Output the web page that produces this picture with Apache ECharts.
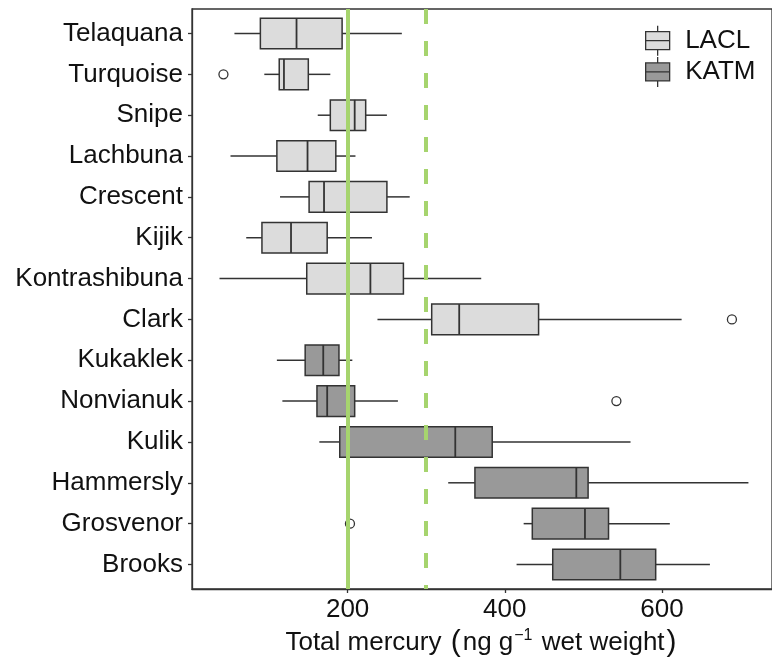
<!DOCTYPE html>
<html>
<head>
<meta charset="utf-8">
<script src="https://cdn.jsdelivr.net/npm/echarts@6/dist/echarts.min.js"></script>
<style>
  html, body { margin: 0; padding: 0; background: #fff; }
  #mychart { width: 772px; height: 665px; }
</style>
</head>
<body>
<div id="mychart"></div>
<script>
// lakes, top to bottom
var laclLakes = ['Telaquana', 'Turquoise', 'Snipe', 'Lachbuna', 'Crescent', 'Kijik', 'Kontrashibuna', 'Clark'];
var katmLakes = ['Kukaklek', 'Nonvianuk', 'Kulik', 'Hammersly', 'Grosvenor', 'Brooks'];
var lakes = laclLakes.concat(katmLakes);

// [lower whisker, Q1, median, Q3, upper whisker]
var laclStats = [
  [56, 89, 135, 193, 269],
  [94, 113, 119, 150, 178],
  [162, 178, 209, 223, 250],
  [51, 110, 149, 185, 210],
  [114, 151, 170, 250, 279],
  [71, 91, 128, 174, 231],
  [37, 148, 229, 271, 370],
  [238, 307, 342, 443, 625]
];
var katmStats = [
  [110, 146, 169, 189, 206],
  [117, 161, 174, 209, 264],
  [164, 190, 337, 384, 560],
  [328, 362, 491, 506, 710],
  [424, 435, 502, 532, 610],
  [415, 461, 547, 592, 661]
];

var outlierLakes = ['Turquoise', 'Clark', 'Nonvianuk', 'Grosvenor'];
var outlierValues = [42, 689, 542, 203];

var xTicks = [200, 400, 600];
var refSolid = 200;
var refDashed = 300;

var fontName = 'Liberation Sans, Arial, sans-serif';
var ink = '#333333';
var green = '#a6d46e';

function boxData(names, stats) {
  var out = [];
  for (var i = 0; i < names.length; i++) {
    out.push([lakes.indexOf(names[i])].concat(stats[i]));
  }
  return out;
}

var outlierData = [];
for (var k = 0; k < outlierLakes.length; k++) {
  outlierData.push([outlierValues[k], lakes.indexOf(outlierLakes[k])]);
}

var lakeIdx = [];
for (var j = 0; j < lakes.length; j++) lakeIdx.push(j);

// ggplot style box: whiskers without caps
function renderBox(params, api) {
  var y = api.value(0);
  var lo = api.coord([api.value(1), y]);
  var q1 = api.coord([api.value(2), y]);
  var md = api.coord([api.value(3), y]);
  var q3 = api.coord([api.value(4), y]);
  var hi = api.coord([api.value(5), y]);
  var h = api.size([0, 0.75])[1];
  var cy = lo[1];
  var line = { stroke: ink, lineWidth: 1.5 };
  return {
    type: 'group',
    children: [
      { type: 'line', shape: { x1: lo[0], y1: cy, x2: q1[0], y2: cy }, style: line },
      { type: 'line', shape: { x1: q3[0], y1: cy, x2: hi[0], y2: cy }, style: line },
      { type: 'rect', shape: { x: q1[0], y: cy - h / 2, width: q3[0] - q1[0], height: h },
        style: { fill: api.visual('color'), stroke: ink, lineWidth: 1.5 } },
      { type: 'line', shape: { x1: md[0], y1: cy - h / 2, x2: md[0], y2: cy + h / 2 },
        style: { stroke: ink, lineWidth: 1.8 } }
    ]
  };
}

var boxIcon = 'path://M12,0L12,6M0,6L24,6L24,24L0,24ZM0,15L24,15M12,24L12,30';

var myChart = echarts.init(document.getElementById('mychart'));
var option = {
  backgroundColor: '#ffffff',
  animation: false,
  textStyle: { fontFamily: fontName },
  grid: {
    left: 192, right: -1, top: 9, bottom: 76,
    show: true, borderColor: ink, borderWidth: 1.3, backgroundColor: 'transparent'
  },
  legend: {
    orient: 'vertical',
    left: 640, top: 20,
    itemWidth: 25, itemHeight: 30, itemGap: 0,
    textStyle: { fontSize: 26, color: '#111', fontFamily: fontName, padding: [0, 0, 0, 10] },
    data: [
      { name: 'LACL', icon: boxIcon, itemStyle: { color: '#dcdcdc', borderColor: ink, borderWidth: 1.3 } },
      { name: 'KATM', icon: boxIcon, itemStyle: { color: '#999999', borderColor: ink, borderWidth: 1.3 } }
    ]
  },
  xAxis: {
    type: 'value',
    min: 2, max: 740,
    axisLine: { show: true, onZero: false, lineStyle: { color: ink, width: 1.3 } },
    axisTick: { show: true, length: 4, customValues: xTicks, lineStyle: { color: ink, width: 1.3 } },
    axisLabel: { customValues: xTicks, fontSize: 26, color: '#111', margin: 8, fontFamily: fontName },
    splitLine: { show: false },
    name: '{a|Total mercury }{p|(}{a|ng g}{sup|\u22121}{a| wet weight}{p|)}',
    nameLocation: 'middle',
    nameGap: 24,
    nameTextStyle: {
      color: '#111',
      rich: {
        a: { fontSize: 26, fontFamily: fontName, color: '#111' },
        p: { fontSize: 30, fontFamily: fontName, color: '#111', padding: [0, 2, 0, 2] },
        sup: { fontSize: 16, fontFamily: fontName, color: '#111', padding: [0, 2, 14, 1] }
      }
    }
  },
  yAxis: {
    type: 'value',
    inverse: true,
    min: -0.6, max: 13.6,
    axisLine: { show: true, onZero: false, lineStyle: { color: ink, width: 1.3 } },
    axisTick: { show: true, length: 4, customValues: lakeIdx, lineStyle: { color: ink, width: 1.3 } },
    axisLabel: {
      customValues: lakeIdx, fontSize: 26, color: '#111', margin: 9, fontFamily: fontName,
      formatter: function (v) { return lakes[Math.round(v)]; }
    },
    splitLine: { show: false }
  },
  series: [
    {
      name: 'LACL', type: 'custom', renderItem: renderBox,
      itemStyle: { color: '#dcdcdc' },
      encode: { x: [1, 2, 3, 4, 5], y: 0 },
      data: boxData(laclLakes, laclStats), z: 2
    },
    {
      name: 'KATM', type: 'custom', renderItem: renderBox,
      itemStyle: { color: '#999999' },
      encode: { x: [1, 2, 3, 4, 5], y: 0 },
      data: boxData(katmLakes, katmStats), z: 2
    },
    {
      name: 'outliers', type: 'scatter',
      symbol: 'circle', symbolSize: 9,
      itemStyle: { color: '#ffffff', borderColor: ink, borderWidth: 1.3, opacity: 1 },
      data: outlierData, z: 4,
      markLine: {
        silent: true, symbol: 'none', label: { show: false },
        data: [
          { xAxis: refSolid, lineStyle: { color: green, width: 4, type: 'solid' } },
          { xAxis: refDashed, lineStyle: { color: green, width: 4, type: [15, 17] } }
        ]
      }
    }
  ]
};
myChart.setOption(option);
</script>
</body>
</html>
